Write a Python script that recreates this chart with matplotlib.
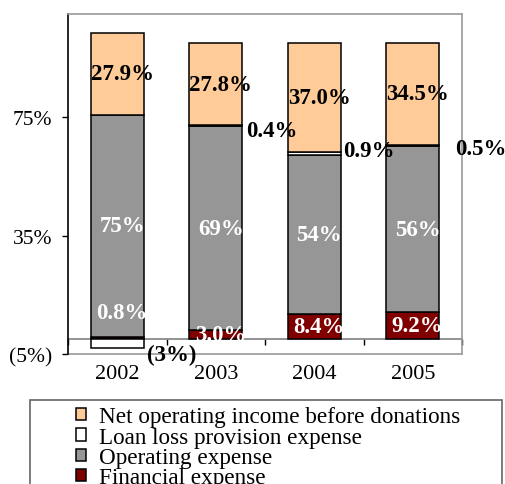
import matplotlib
matplotlib.use("Agg")
import matplotlib.pyplot as plt
from matplotlib.patches import Rectangle
import numpy as np

# ---- data (percent of total) ----
years = ["2002", "2003", "2004", "2005"]
financial = [0.8, 3.0, 8.4, 9.2]
operating = [75, 69, 54, 56]
loan_loss = [-3.0, 0.4, 0.9, 0.5]
net_income = [27.9, 27.8, 37.0, 34.5]
ytick_values = [-5, 35, 75]
ytick_labels = ["(5%)", "35%", "75%"]

series_names = ["Financial expense", "Operating expense",
                "Loan loss provision expense",
                "Net operating income before donations"]
colors = ["#800000", "#969696", "#FFFFFF", "#FFCC99"]

plt.rcParams["font.family"] = ["Liberation Serif", "DejaVu Serif"]

fig = plt.figure(figsize=(5.05, 4.85), dpi=100)
ax = fig.add_axes([68 / 505, 1 - 355 / 485, 394 / 505, 340 / 485])

x = np.arange(len(years))
w = 0.54
fin = np.array(financial, float)
ope = np.array(operating, float)
llp = np.array(loan_loss, float)
net = np.array(net_income, float)

# stacking: financial, operating, loan loss, net income
b_fin = np.zeros(len(x))
b_ope = fin
b_llp = np.where(llp >= 0, fin + ope, 0.0)
b_net = fin + ope + np.clip(llp, 0, None)

bars = []
for vals, base, col, name in zip([fin, ope, llp, net],
                                 [b_fin, b_ope, b_llp, b_net],
                                 colors, series_names):
    bars.append(ax.bar(x, vals, w, bottom=base, color=col, edgecolor="black",
                       linewidth=1.1, zorder=3, label=name))

bold = dict(fontsize=16.5, fontweight="bold", zorder=5)
dx = 0.05

# net income labels
for i, v in enumerate(net):
    ax.text(x[i] + dx, b_net[i] + v / 2, f"{v:.1f}%", ha="center",
            va="center", color="black", **bold)
# operating expense labels
for i, v in enumerate(ope):
    ax.text(x[i] + dx, b_ope[i] + v / 2, f"{v:.0f}%", ha="center",
            va="center", color="white", **bold)
# financial expense labels
fin_lift = [8.8, 0, 0, 0]
for i, v in enumerate(fin):
    ax.text(x[i] + dx, v / 2 + fin_lift[i], f"{v:.1f}%", ha="center",
            va="center", color="white", **bold)
# loan loss labels beside the bars
llp_dx = [0.036, 0.034, 0.02, 0.16]
llp_dy = [-3.5, -1.7, 0.9, -1.1]
for i, v in enumerate(llp):
    txt = f"{v:.1f}%" if v >= 0 else f"({abs(v):.0f}%)"
    ax.text(x[i] + w / 2 + llp_dx[i], b_llp[i] + v / 2 + llp_dy[i], txt,
            ha="left", va="center", color="black", clip_on=False, **bold)

ax.set_xlim(-0.5, 3.5)
ax.set_ylim(-5, 110)

# value axis
ax.set_yticks(ytick_values)
ax.set_yticklabels(ytick_labels, fontsize=15.5)
ax.tick_params(axis="y", direction="out", length=4, width=1, pad=7.5,
               color="black")

# category axis drawn along the zero line
ax.spines["bottom"].set_position(("data", 0))
ax.spines["bottom"].set_color("#808080")
ax.spines["bottom"].set_linewidth(1.2)
ax.spines["bottom"].set_zorder(2)
ax.set_xticks(x)
ax.set_xticklabels(years, fontsize=16)
ax.set_xticks(np.arange(-0.5, 3.6, 1.0), minor=True)
ax.tick_params(axis="x", which="major", length=0, pad=17.5)
ax.tick_params(axis="x", which="minor", length=4, width=1, color="black",
               direction="out")

ax.spines["left"].set_color("black")
ax.spines["left"].set_linewidth(1.2)
for s in ["top", "right"]:
    ax.spines[s].set_color("#999999")
    ax.spines[s].set_linewidth(1.2)
ax.axhline(-5, color="#999999", linewidth=1.2, clip_on=False, zorder=2)

# legend box
fig.patches.append(Rectangle((30 / 505, -0.05), 472 / 505,
                             (1 - 400.7 / 485) + 0.05,
                             transform=fig.transFigure, facecolor="white",
                             edgecolor="#666666", linewidth=1.2))
handles = [bars[3], bars[2], bars[1], bars[0]]
labels = [series_names[3], series_names[2], series_names[1], series_names[0]]
leg = fig.legend(handles, labels, loc="upper left",
                 bbox_to_anchor=(76 / 505, 1 - 407.5 / 485), frameon=False,
                 fontsize=16.7, handlelength=0.43, handleheight=0.43,
                 handletextpad=0.55, labelspacing=-0.03, borderpad=0,
                 borderaxespad=0)

fig.savefig("out.png", dpi=100)
